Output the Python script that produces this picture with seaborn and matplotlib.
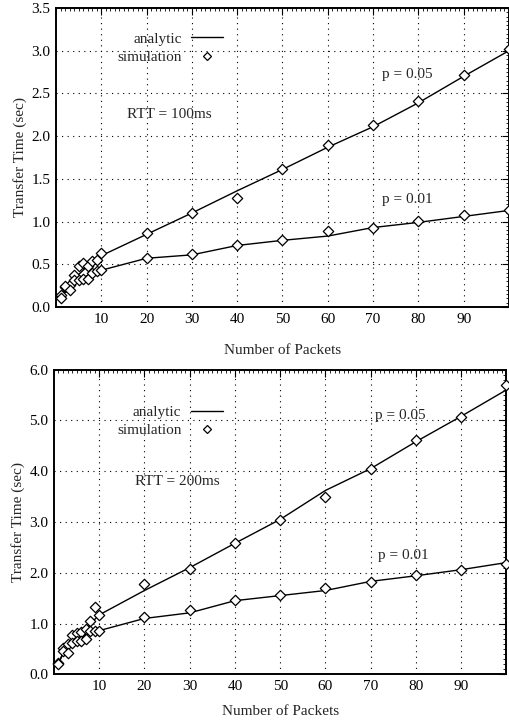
import numpy as np
import pandas as pd
import matplotlib
matplotlib.use('Agg')
import matplotlib.pyplot as plt
import matplotlib.ticker as mtick
from matplotlib.lines import Line2D
import seaborn as sns

sns.set_style('white')
plt.rcParams['font.family'] = ['Liberation Serif', 'DejaVu Serif']
plt.rcParams['font.size'] = 11

# x positions (number of packets)
packets = [1, 2, 3, 4, 5, 6, 7, 8, 9, 10, 20, 30, 40, 50, 60, 70, 80, 90, 100]

# RTT = 100ms
ana_100_p05 = [0.12, 0.20, 0.26, 0.33, 0.38, 0.43, 0.48, 0.52, 0.56, 0.60,
               0.85, 1.10, 1.36, 1.61, 1.87, 2.11, 2.39, 2.70, 3.00]
sim_100_p05 = [0.14, 0.23, 0.26, 0.37, 0.48, 0.51, 0.48, 0.54, 0.55, 0.63,
               0.87, 1.10, 1.28, 1.61, 1.90, 2.13, 2.41, 2.72, 3.02]
ana_100_p01 = [0.10, 0.18, 0.23, 0.28, 0.31, 0.34, 0.37, 0.40, 0.42, 0.43,
               0.57, 0.61, 0.72, 0.78, 0.83, 0.93, 0.99, 1.06, 1.13]
sim_100_p01 = [0.10, 0.24, 0.20, 0.31, 0.32, 0.33, 0.33, 0.40, 0.42, 0.43,
               0.57, 0.62, 0.73, 0.78, 0.89, 0.92, 1.01, 1.08, 1.14]

# RTT = 200ms
ana_200_p05 = [0.22, 0.42, 0.55, 0.65, 0.75, 0.82, 0.88, 0.98, 1.08, 1.17,
               1.65, 2.10, 2.58, 3.05, 3.62, 4.05, 4.58, 5.08, 5.60]
sim_200_p05 = [0.22, 0.51, 0.59, 0.78, 0.82, 0.84, 0.89, 1.04, 1.32, 1.17,
               1.78, 2.08, 2.59, 3.04, 3.50, 4.05, 4.61, 5.07, 5.70]
ana_200_p01 = [0.22, 0.40, 0.50, 0.60, 0.66, 0.72, 0.78, 0.83, 0.85, 0.86,
               1.10, 1.21, 1.45, 1.55, 1.65, 1.83, 1.94, 2.06, 2.20]
sim_200_p01 = [0.21, 0.46, 0.42, 0.62, 0.65, 0.65, 0.69, 0.85, 0.86, 0.86,
               1.13, 1.27, 1.46, 1.56, 1.70, 1.81, 1.95, 2.06, 2.18]


def long_df(ana05, sim05, ana01, sim01):
    rows = []
    for p, ana, sim in [('0.05', ana05, sim05), ('0.01', ana01, sim01)]:
        for x, a, s in zip(packets, ana, sim):
            rows.append({'packets': x, 'p': p, 'analytic': a, 'simulation': s})
    return pd.DataFrame(rows)


panels = [
    dict(df=long_df(ana_100_p05, sim_100_p05, ana_100_p01, sim_100_p01),
         rect=[0.110, 0.5766, 0.890, 0.4124], ymax=3.5, ystep=0.5, yminor=0.05,
         rtt='RTT = 100ms', rtt_xy=(15.6, 2.25), xlpad=13,
         p05_xy=(72, 2.72), p01_xy=(72, 1.26), leg=(0.369, 0.92)),
    dict(df=long_df(ana_200_p05, sim_200_p05, ana_200_p01, sim_200_p01),
         rect=[0.106, 0.0699, 0.889, 0.4204], ymax=6.0, ystep=1.0, yminor=0.1,
         rtt='RTT = 200ms', rtt_xy=(17.9, 3.79), xlpad=9,
         p05_xy=(71, 5.10), p01_xy=(71.6, 2.33), leg=(0.373, 0.883)),
]

fig = plt.figure(figsize=(5.09, 7.25), dpi=100)

for pn in panels:
    ax = fig.add_axes(pn['rect'])
    df = pn['df']
    sns.lineplot(data=df, x='packets', y='analytic', units='p', estimator=None,
                 color='black', lw=1.0, ax=ax, legend=False)
    sns.scatterplot(data=df, x='packets', y='simulation', marker='D', s=28,
                    facecolor='white', edgecolor='black', linewidth=0.9,
                    ax=ax, legend=False, zorder=3, clip_on=False)

    ax.set_xlim(0, 100)
    ax.set_ylim(0, pn['ymax'])
    ax.xaxis.set_major_locator(mtick.FixedLocator(range(10, 100, 10)))
    ax.xaxis.set_minor_locator(mtick.MultipleLocator(1))
    ax.yaxis.set_major_locator(mtick.MultipleLocator(pn['ystep']))
    ax.yaxis.set_minor_locator(mtick.MultipleLocator(pn['yminor']))
    ax.yaxis.set_major_formatter(mtick.FormatStrFormatter('%.1f'))

    ax.grid(True, which='major', color='black', lw=0.8, linestyle=(0, (1, 4)))
    ax.tick_params(which='both', direction='in', top=True, right=True,
                   colors='black', labelsize=11)
    ax.tick_params(which='major', length=5, width=0.8, pad=4)
    ax.tick_params(which='minor', length=2.5, width=0.6)
    for s in ax.spines.values():
        s.set_visible(True)
        s.set_color('black')
        s.set_linewidth(1.4)

    ax.set_xlabel('Number of Packets', fontsize=11, labelpad=pn['xlpad'])
    ax.set_ylabel('Transfer Time (sec)', fontsize=11, labelpad=3)

    ax.text(*pn['rtt_xy'], pn['rtt'], fontsize=11, va='center', ha='left')
    ax.text(*pn['p05_xy'], 'p = 0.05', fontsize=11, va='center', ha='left')
    ax.text(*pn['p01_xy'], 'p = 0.01', fontsize=11, va='center', ha='left')

    handles = [Line2D([], [], color='black', lw=1.0),
               Line2D([], [], color='black', marker='D', ms=4.5, ls='none',
                      markerfacecolor='white', markeredgewidth=0.9)]
    ax.legend(handles, ['analytic', 'simulation'], loc='upper right',
              bbox_to_anchor=pn['leg'], frameon=False, markerfirst=False,
              borderpad=0, borderaxespad=0, handlelength=2.1,
              handletextpad=0.6, labelspacing=0.3, fontsize=11)

fig.savefig('out.png', dpi=100)
